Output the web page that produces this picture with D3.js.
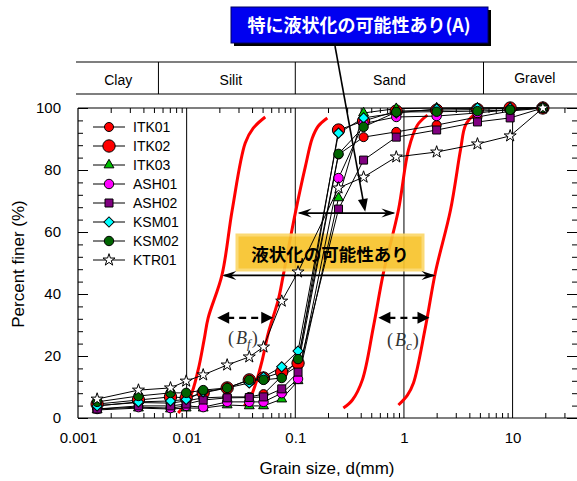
<!DOCTYPE html>
<html><head><meta charset="utf-8">
<script src="https://cdn.jsdelivr.net/npm/d3@7"></script>
<style>body{margin:0;background:#fff}svg{display:block}</style>
</head><body>
<svg id="c" width="577" height="481"></svg>
<script>
// ---------- data ----------
const sizes = [0.0015,0.0036,0.0071,0.0099,0.0142,0.0236,0.0377,0.051,0.075,0.106,0.25,0.425,0.85,2,4.75,9.5,19];
const seriesNames = ["ITK01","ITK02","ITK03","ASH01","ASH02","KSM01","KSM02","KTR01"];
const ITK01 = [4.0,5.0,4.8,5.5,6.5,6.8,6.8,7.7,13.5,16.8,85.0,90.6,92.3,94.5,97.1,99.0,100];
const ITK02 = [4.5,5.8,6.8,6.5,8.1,9.7,12.3,12.9,14.8,17.7,92.9,95.8,99.0,99.3,99.5,100,100];
const ITK03 = [2.6,3.2,2.9,3.2,3.2,4.2,3.9,3.9,6.1,12.0,71.0,98.4,99.8,100,100,100,100];
const ASH01 = [2.9,3.5,3.2,3.9,3.5,5.2,5.2,5.2,8.0,12.6,77.4,95.0,97.1,97.4,98.4,99.5,100];
const ASH02 = [2.9,3.9,3.9,4.5,5.8,6.5,6.6,6.8,9.4,14.8,67.4,83.2,90.6,92.9,95.5,96.8,100];
const KSM01 = [3.9,5.2,5.5,6.0,8.4,9.7,11.3,13.2,16.5,21.6,91.9,96.8,98.4,99.7,100,100,100];
const KSM02 = [5.2,7.1,8.1,8.1,9.0,9.7,12.3,12.3,12.9,19.0,85.2,93.9,98.7,98.8,99.0,99.4,100];
const KTR01 = [6.1,9.0,9.7,11.9,13.9,17.1,19.7,22.9,37.7,47.1,74.2,77.7,84.2,85.8,88.4,91.0,100];

// boundary curves (grain size mm, percent finer)
const bf1X = [0.00835,0.01077,0.01276,0.01447,0.01578,0.02113,0.02627,0.03461,0.0410,0.0529];
const bf1Y = [1.6,6.8,15.5,25.2,32.3,46.1,67.1,88.7,93.5,97.1];
const bf2X = [0.03388,0.03848,0.04278,0.04965,0.05639,0.06972,0.07754,0.1,0.1236,0.1435,0.1629,0.1972];
const bf2Y = [3.9,6.5,10.6,18.7,27.4,38.1,46.1,66.1,81.0,90.3,94.2,96.8];
const bc1X = [0.2770,0.3353,0.4145,0.5236,0.6474,0.8899,1.1003,1.3318,1.6467];
const bc1Y = [3.2,5.8,12.3,29.4,46.8,67.1,86.5,94.5,97.7];
const bc2X = [0.8899,1.0772,1.2237,1.5784,1.9512,2.6834,3.3170,3.6878,4.3717];
const bc2Y = [4.2,7.4,11.3,29.4,47.1,67.1,86.5,94.5,97.7];

const xTickLabels = [0.001,0.01,0.1,1,10];
const yTickLabels = [0,20,40,60,80,100];
const bandEdges = [0.0055,0.1,5.4];
const bandNames = ["Clay","Silit","Sand","Gravel"];

// ---------- setup ----------
const FONT = "'Liberation Sans', Arial, sans-serif";
const JP = "'Noto Sans CJK JP', sans-serif";
const L = 78, R = 578, T = 108, B = 418;
const x = d3.scaleLog().domain([0.001, 40]).range([L, R]);
const y = d3.scaleLinear().domain([0, 100]).range([B, T]);
const svg = d3.select("#c");

const minorX = [];
for (let e = -3; e <= 1; e++) for (let m = 2; m <= 9; m++) { const v = m * Math.pow(10, e); if (v < 40) minorX.push(+v.toPrecision(3)); }
const minorY = d3.range(0, 101, 4);

// gridlines at decades
svg.append("g").selectAll("line").data([0.01,0.1,1,10]).join("line")
  .attr("x1", d => x(d)).attr("x2", d => x(d)).attr("y1", T).attr("y2", B)
  .attr("stroke", "#000").attr("stroke-width", 1);

// axes
function clean(g){ g.select(".domain").remove(); g.selectAll("text").attr("font-family", FONT); }
svg.append("g").attr("transform", `translate(0,${B})`)
  .call(d3.axisBottom(x).tickValues(minorX).tickSize(-5).tickFormat("")).call(clean);
svg.append("g").attr("transform", `translate(0,${T})`)
  .call(d3.axisTop(x).tickValues(minorX).tickSize(-5).tickFormat("")).call(clean);
svg.append("g").attr("transform", `translate(0,${B})`)
  .call(d3.axisBottom(x).tickValues(xTickLabels).tickSize(0).tickPadding(14).tickFormat(d3.format("")))
  .call(clean).selectAll("text").attr("font-size", 15).attr("fill", "#000");
svg.append("g").attr("transform", `translate(${L},0)`)
  .call(d3.axisLeft(y).tickValues(minorY).tickSize(-5).tickFormat("")).call(clean);
svg.append("g").attr("transform", `translate(${L},0)`)
  .call(d3.axisLeft(y).tickValues(yTickLabels).tickSize(-10).tickPadding(17)).call(clean)
  .selectAll("text").attr("font-size", 15).attr("fill", "#000");
svg.append("g").attr("transform", `translate(${R - 1},0)`)
  .call(d3.axisRight(y).tickValues(minorY).tickSize(-5).tickFormat("")).call(clean);
svg.append("g").attr("transform", `translate(${R - 1},0)`)
  .call(d3.axisRight(y).tickValues(yTickLabels).tickSize(-10).tickFormat("")).call(clean);
svg.selectAll(".tick line").attr("stroke", "#000");
// frame
svg.append("path").attr("d", `M${L},${T}H${R}M${L},${B}H${R}M${L},${T}V${B}`)
  .attr("stroke", "#000").attr("stroke-width", 1.2).attr("fill", "none");

// axis titles
svg.append("text").attr("x", (L + R) / 2 - 1).attr("y", 474).attr("text-anchor", "middle")
  .attr("font-family", FONT).attr("font-size", 17).text("Grain size, d(mm)");
svg.append("text").attr("transform", "translate(24,264) rotate(-90)").attr("text-anchor", "middle")
  .attr("font-family", FONT).attr("font-size", 17).text("Percent finer (%)");

// soil classification band
const bandY1 = 62, bandY2 = 94;
svg.append("path").attr("d", `M76,${bandY1}H577M76,${bandY2}H577`).attr("stroke", "#000").attr("stroke-width", 1.2);
svg.append("g").selectAll("line").data(bandEdges).join("line")
  .attr("x1", d => x(d)).attr("x2", d => x(d)).attr("y1", bandY1).attr("y2", bandY2)
  .attr("stroke", "#000").attr("stroke-width", 1);
const bandBounds = [L, ...bandEdges.map(x), R];
svg.append("g").selectAll("text").data(bandNames).join("text")
  .attr("x", (d, i) => (bandBounds[i] + bandBounds[i + 1]) / 2 + (i === 1 ? 4 : i === 3 ? 4 : 0))
  .attr("y", (d, i) => i === 3 ? 83 : 85)
  .attr("text-anchor", "middle").attr("font-family", FONT).attr("font-size", 14).text(d => d);

// red boundary curves
const redLine = d3.line().x(d => x(d[0])).y(d => y(d[1])).curve(d3.curveCatmullRom);
[[bf1X,bf1Y],[bf2X,bf2Y],[bc1X,bc1Y],[bc2X,bc2Y]].forEach(([xs, ys]) => {
  svg.append("path").attr("d", redLine(xs.map((v, i) => [v, ys[i]])))
    .attr("fill", "none").attr("stroke", "#ff0000").attr("stroke-width", 3);
});

// yellow box (behind series lines partially)
const ybox = svg.append("g");
ybox.append("rect").attr("x", 237).attr("y", 235).attr("width", 186).attr("height", 35)
  .attr("fill", "#f8c42c").attr("stroke", "#fbd76a").attr("stroke-width", 3).attr("opacity", 0.92);

// series
const seriesVals = [ITK01, ITK02, ITK03, ASH01, ASH02, KSM01, KSM02, KTR01];
const styles = {
  ITK01: {type: d3.symbolCircle, size: 64, fill: "#ff0000"},
  ITK02: {type: d3.symbolCircle, size: 120, fill: "#ff0000"},
  ITK03: {type: d3.symbolTriangle, size: 42, fill: "#00c000"},
  ASH01: {type: d3.symbolCircle, size: 70, fill: "#ff00ff"},
  ASH02: {type: d3.symbolSquare, size: 64, fill: "#800080"},
  KSM01: {type: d3.symbolSquare, size: 52, fill: "#00ffff", rot: 45},
  KSM02: {type: d3.symbolCircle, size: 70, fill: "#006400"},
  KTR01: {type: d3.symbolStar, size: 45, fill: "#ffffff"}
};
const sLine = d3.line().defined(d => d[1] != null).x(d => x(d[0])).y(d => y(d[1]));
const gLines = svg.append("g"), gPts = svg.append("g");
seriesNames.forEach((name, si) => {
  const pts = sizes.map((s, i) => [s, seriesVals[si][i]]);
  gLines.append("path").attr("d", sLine(pts)).attr("fill", "none").attr("stroke", "#000").attr("stroke-width", 1);
});
seriesNames.forEach((name, si) => {
  const st = styles[name];
  const pts = sizes.map((s, i) => [s, seriesVals[si][i]]).filter(d => d[1] != null);
  gPts.append("g").selectAll("path").data(pts).join("path")
    .attr("d", d3.symbol(st.type, st.size))
    .attr("transform", d => `translate(${x(d[0])},${y(d[1])}) rotate(${st.rot || 0})`)
    .attr("fill", st.fill).attr("stroke", "#000").attr("stroke-width", 1);
});

// yellow box text
svg.append("text").attr("x", 330).attr("y", 261).attr("text-anchor", "middle")
  .attr("font-family", JP).attr("font-weight", "bold").attr("font-size", 17.5).text("液状化の可能性あり");

// legend
const lg = svg.append("g");
seriesNames.forEach((name, i) => {
  const ly = 127 + i * 19;
  const st = styles[name];
  lg.append("line").attr("x1", 93).attr("x2", 125).attr("y1", ly).attr("y2", ly).attr("stroke", "#000");
  lg.append("path").attr("d", d3.symbol(st.type, st.size)())
    .attr("transform", `translate(109,${ly}) rotate(${st.rot || 0})`)
    .attr("fill", st.fill).attr("stroke", "#000");
  lg.append("text").attr("x", 133).attr("y", ly + 5).attr("font-family", FONT).attr("font-size", 14).text(name);
});

// arrows
function barb(px, py, dir) { // dir: +1 right, -1 left
  return `M${px},${py}L${px - dir * 14},${py - 4.5}L${px - dir * 9},${py}L${px - dir * 14},${py + 4.5}Z`;
}
function hArrow(x1v, x2v, yv) {
  const X1 = x(x1v), X2 = x(x2v), Y = y(yv);
  svg.append("line").attr("x1", X1 + 2).attr("x2", X2 - 2).attr("y1", Y).attr("y2", Y).attr("stroke", "#000").attr("stroke-width", 1.6);
  svg.append("path").attr("d", barb(X1, Y, -1)).attr("fill", "#000");
  svg.append("path").attr("d", barb(X2, Y, 1)).attr("fill", "#000");
}
hArrow(0.105, 0.835, 66.1);
hArrow(0.0213, 1.951, 46.0);

function dashArrow(x1v, x2v, yv) {
  const X1 = x(x1v), X2 = x(x2v), Y = y(yv);
  svg.append("line").attr("x1", X1 + 10).attr("x2", X2 - 10).attr("y1", Y).attr("y2", Y)
    .attr("stroke", "#000").attr("stroke-width", 2.2).attr("stroke-dasharray", "7,5");
  svg.append("path").attr("d", `M${X1},${Y}L${X1 + 12},${Y - 6}L${X1 + 12},${Y + 6}Z`).attr("fill", "#000");
  svg.append("path").attr("d", `M${X2},${Y}L${X2 - 12},${Y - 6}L${X2 - 12},${Y + 6}Z`).attr("fill", "#000");
}
dashArrow(0.0191, 0.0627, 32.3);
dashArrow(0.582, 1.718, 32.3);

// (Bf), (Bc) labels
function bLabel(px, py, sub) {
  const t = svg.append("text").attr("x", px).attr("y", py).attr("font-family", "'Liberation Serif', 'Times New Roman', serif")
    .attr("font-size", 18).attr("fill", "#333");
  t.append("tspan").text("(");
  t.append("tspan").attr("font-style", "italic").attr("dx", 2).text("B");
  t.append("tspan").attr("font-style", "italic").attr("font-size", 13).attr("dy", 4).text(sub);
  t.append("tspan").attr("dy", -4).attr("dx", 1).text(")");
}
bLabel(228, 344, "f");
bLabel(387, 346, "c");

// blue callout
svg.append("rect").attr("x", 234).attr("y", 10).attr("width", 257).attr("height", 36).attr("fill", "#000");
svg.append("rect").attr("x", 231).attr("y", 7).attr("width", 257).attr("height", 36)
  .attr("fill", "#0000f0").attr("stroke", "#000060").attr("stroke-width", 1);
svg.append("text").attr("x", 359).attr("y", 32).attr("text-anchor", "middle").attr("fill", "#fff")
  .attr("font-family", JP).attr("font-weight", "bold").attr("font-size", 18).text("特に液状化の可能性あり(A)");
// pointer
const tipX = x(0.44), tipY = y(66.5);
const sx = 335, sy = 46;
const ang = Math.atan2(tipY - sy, tipX - sx);
svg.append("line").attr("x1", sx).attr("y1", sy).attr("x2", tipX - 10 * Math.cos(ang)).attr("y2", tipY - 10 * Math.sin(ang))
  .attr("stroke", "#000").attr("stroke-width", 1.6);
const hl = 13, hw = 5;
const bx = tipX - hl * Math.cos(ang), by = tipY - hl * Math.sin(ang);
svg.append("path").attr("d", `M${tipX},${tipY}L${bx + hw * Math.sin(ang)},${by - hw * Math.cos(ang)}L${bx - hw * Math.sin(ang)},${by + hw * Math.cos(ang)}Z`).attr("fill", "#000");
</script>
</body></html>
